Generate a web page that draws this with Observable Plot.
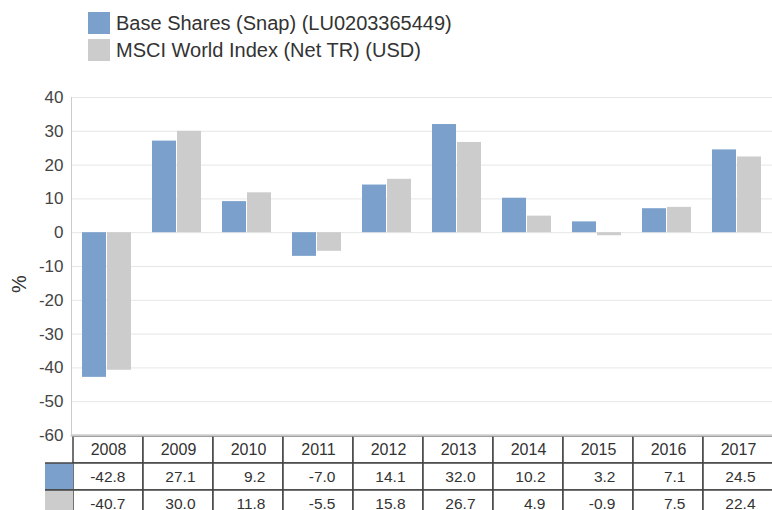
<!DOCTYPE html>
<html>
<head>
<meta charset="utf-8">
<script src="https://cdn.jsdelivr.net/npm/d3@7"></script>
<script src="https://cdn.jsdelivr.net/npm/@observablehq/plot@0.6"></script>
<style>
  html, body { margin: 0; padding: 0; background: #fff; }
  body { width: 772px; height: 510px; position: relative; overflow: hidden; font-family: "Liberation Sans", Arial, sans-serif; }
  #legend { position: absolute; left: 0; top: 0; width: 772px; height: 70px; }
  .lg-item { position: absolute; left: 88px; height: 22px; display: flex; align-items: center; font-size: 20px; color: #333; white-space: nowrap; }
  .lg-sw { width: 22px; height: 22px; margin-right: 6px; flex: none; }
  #chart { position: absolute; left: 0; top: 70px; }
  #table { position: absolute; left: 0; top: 434px; width: 780px; }
  #table svg { max-width: none !important; }
  #ylabel { position: absolute; left: 19px; top: 284px; transform: translate(-50%, -50%) rotate(-90deg); font-size: 20px; color: #333; }
</style>
</head>
<body>
<div id="legend"></div>
<div id="chart"></div>
<div id="table"></div>
<div id="ylabel">%</div>
<script>
// ---- data ----
const years = ["2008", "2009", "2010", "2011", "2012", "2013", "2014", "2015", "2016", "2017"];
const seriesNames = ["Base Shares (Snap) (LU0203365449)", "MSCI World Index (Net TR) (USD)"];
const baseShares = [-42.8, 27.1, 9.2, -7.0, 14.1, 32.0, 10.2, 3.2, 7.1, 24.5];
const msciWorld = [-40.7, 30.0, 11.8, -5.5, 15.8, 26.7, 4.9, -0.9, 7.5, 22.4];
const yTicks = [-60, -50, -40, -30, -20, -10, 0, 10, 20, 30, 40];
const colors = ["#7ba0cc", "#cccccc"];

const rows = years.map((year, i) => ({year, base: baseShares[i], msci: msciWorld[i]}));

// ---- legend ----
const legend = document.getElementById("legend");
seriesNames.forEach((name, i) => {
  const item = document.createElement("div");
  item.className = "lg-item";
  item.style.top = (12 + i * 27) + "px";
  const sw = document.createElement("div");
  sw.className = "lg-sw";
  sw.style.background = colors[i];
  const t = document.createElement("span");
  t.textContent = name;
  item.appendChild(sw);
  item.appendChild(t);
  legend.appendChild(item);
});

// ---- chart ----
const chart = Plot.plot({
  width: 772,
  height: 366,
  marginTop: 27,
  marginBottom: 1,
  marginLeft: 71,
  marginRight: 0,
  style: {fontFamily: "Liberation Sans, Arial, sans-serif", fontSize: "17px", color: "#444", background: "transparent", overflow: "visible"},
  x: {domain: years, paddingInner: 0.3, paddingOuter: 0.15, axis: null},
  y: {domain: [-60, 40], ticks: yTicks, tickSize: 0, tickPadding: 8, label: null, tickFormat: d => String(d)},
  marks: [
    Plot.gridY(yTicks, {stroke: "#e6e6e6", strokeOpacity: 1}),
    Plot.frame({anchor: "left", stroke: "#cccccc"}),
    Plot.barY(rows, {x: "year", y: "base", fill: colors[0], insetRight: 25}),
    Plot.barY(rows, {x: "year", y: "msci", fill: colors[1], insetLeft: 25}),
    Plot.ruleY([-60], {stroke: "#cccccc", strokeWidth: 2})
  ]
});
document.getElementById("chart").appendChild(chart);

// ---- data table ----
const rowKeys = ["head", "base", "msci"];
const cells = [];
years.forEach(year => rowKeys.forEach(r => cells.push({year, row: r})));
const headCells = years.map(year => ({year, row: "head", text: year}));
const valueCells = [];
rows.forEach(d => {
  valueCells.push({year: d.year, row: "base", text: d.base.toFixed(1)});
  valueCells.push({year: d.year, row: "msci", text: d.msci.toFixed(1)});
});

const table = Plot.plot({
  width: 776,
  height: 84,
  marginTop: 1,
  marginBottom: 0,
  marginLeft: 71,
  marginRight: 2,
  style: {fontFamily: "Liberation Sans, Arial, sans-serif", color: "#333", background: "transparent", overflow: "visible", maxWidth: "none"},
  x: {domain: years, padding: 0, axis: null},
  y: {domain: rowKeys, padding: 0, axis: null},
  marks: [
    Plot.cell(cells, {x: "year", y: "row", fill: "white", stroke: "#444", strokeWidth: 1.5, inset: 0}),
    Plot.text(headCells, {x: "year", y: "row", text: "text", fontSize: 16, fill: "#333"}),
    Plot.text(valueCells, {x: "year", y: "row", text: "text", fontSize: 15.5, fill: "#333", textAnchor: "end", dx: 17}),
    Plot.frame({anchor: "top", stroke: "#cccccc", strokeWidth: 2})
  ]
});
// key swatches in the left margin of the table, positioned with the table's scales
const ty = table.scale("y");
const tx = table.scale("x");
const x0 = tx.apply(years[0]);
const svg = d3.select(table);
[["base", colors[0]], ["msci", colors[1]]].forEach(([key, c]) => {
  const y0 = ty.apply(key);
  svg.append("rect").attr("x", x0 - 28).attr("y", y0).attr("width", 28).attr("height", ty.bandwidth).attr("fill", c);
  svg.append("line").attr("x1", x0 - 28).attr("x2", x0).attr("y1", y0).attr("y2", y0).attr("stroke", "#444").attr("stroke-width", 1.5);
  svg.append("line").attr("x1", x0 - 28).attr("x2", x0).attr("y1", y0 + ty.bandwidth).attr("y2", y0 + ty.bandwidth).attr("stroke", "#444").attr("stroke-width", 1.5);
});
document.getElementById("table").appendChild(table);
</script>
</body>
</html>
